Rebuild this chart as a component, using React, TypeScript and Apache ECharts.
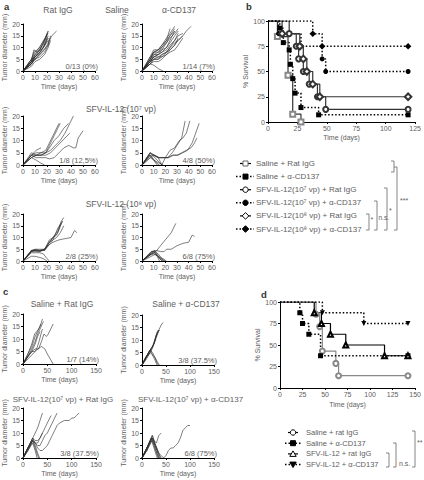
import React, { useEffect, useRef } from "react";
import * as echarts from "echarts";

const FONT = '"Liberation Sans", Arial, Helvetica, sans-serif';
const GREY = "#606060";
const INK = "#2a2a2a";

// ---------------- panel a : tumour diameter (mm) vs time (days) ----------------
const A_RAT_IGG = [
  [[0,0],[7,4],[10,7],[14,9],[17,12],[21,17]],
  [[0,0],[7,5],[10,8],[14,10],[17,13],[21,16]],
  [[0,0],[7,3],[10,6],[14,8],[18,11],[21,15]],
  [[0,0],[7,3],[10,5],[14,7],[18,9],[21,12],[24,15],[28,17]],
  [[0,0],[7,5],[9,8],[12,9],[15,11],[19,14],[21,17]],
  [[0,0],[7,3],[10,6],[13,7],[17,10],[21,14]],
  [[0,0],[7,4],[10,5],[14,6],[18,8],[21,11],[23,15]],
  [[0,0],[7,4],[10,7],[13,9],[17,11],[20,15]],
  [[0,0],[7,2],[10,4],[14,5],[18,7],[21,10],[23,13]],
  [[0,0],[7,5],[10,6],[14,8],[17,10],[21,13]],
  [[0,0],[7,4],[10,6],[14,9],[17,12],[20,16]],
  [[0,0],[7,3],[10,5],[14,7],[17,9],[21,11],[22,14]],
  [[0,0],[7,4],[9,9],[12,8],[17,10],[20,14]],
];
const A_CD137 = [
  [[0,0],[7,5],[10,8],[14,8],[17,10],[21,13],[24,18]],
  [[0,0],[7,6],[10,8],[14,9],[17,11],[21,14],[24,16],[28,19]],
  [[0,0],[7,4],[10,6],[14,7],[17,8],[21,10],[24,12],[28,15],[31,17]],
  [[0,0],[7,5],[10,7],[14,7],[17,9],[21,10],[24,13],[28,17]],
  [[0,0],[7,3],[10,5],[14,5],[17,7],[21,8],[24,10],[28,13],[31,15],[35,16]],
  [[0,0],[7,4],[10,6],[14,6],[17,7],[21,8],[24,9],[28,11],[31,13],[35,15],[38,17],[42,19]],
  [[0,0],[7,3],[10,5],[14,5],[17,6],[21,7],[24,8],[28,9],[31,11],[35,14]],
  [[0,0],[7,5],[10,8],[14,9],[17,11],[21,13],[24,15],[28,17]],
  [[0,0],[7,4],[10,7],[14,8],[17,9],[21,12],[24,14],[28,16],[31,18]],
  [[0,0],[7,3],[10,4],[14,4],[17,5],[21,7],[24,9],[28,11],[31,14]],
  [[0,0],[7,4],[10,5],[14,6],[17,6],[21,8],[24,10],[28,12],[31,13],[35,15]],
  [[0,0],[7,6],[10,9],[14,9],[17,10],[21,12],[24,15],[28,18]],
  [[0,0],[7,4],[10,6],[14,7],[17,8],[21,9],[24,11],[28,13],[31,16]],
  [[0,0],[7,3],[10,2.5],[14,1],[18,0]],
];
const A_SFV7_RAT = [
  [[0,0],[7,4],[11,6],[15,7]],
  [[0,0],[7,3],[11,2],[14,1],[18,0]],
  [[0,0],[7,4],[11,5],[15,5],[19,6],[22,9],[26,13],[30,17]],
  [[0,0],[7,5],[11,4],[15,5],[19,5],[22,8],[26,12],[29,15],[31,17]],
  [[0,0],[7,4],[11,4],[15,4],[19,5],[22,7],[26,10],[30,12],[34,15],[38,17]],
  [[0,0],[7,3],[11,4],[15,4],[19,5],[23,6],[27,8],[31,10],[35,13],[39,17],[42,20]],
  [[0,0],[7,4],[11,3],[15,3],[19,3],[22,2.5],[26,3],[30,5],[34,7],[38,8],[42,7],[44,7],[46,11],[50,14]],
  [[0,0],[7,3],[11,4],[15,4],[19,4],[23,5],[27,7],[31,9],[35,11],[39,13]],
];
const A_SFV7_CD137 = [
  [[0,0],[7,5],[10,4],[14,3],[18,3],[22,3],[26,5],[30,8],[34,11],[37,18]],
  [[0,0],[7,4],[10,4],[14,3],[17,0],[20,3],[24,6],[28,7],[32,10],[35,11],[38,13],[41,18]],
  [[0,0],[7,5],[11,4],[15,3],[19,3],[23,3],[27,4],[31,4],[35,5],[39,6],[43,9],[46,13],[49,17]],
  [[0,0],[7,3],[10,4],[14,3],[18,3],[22,3],[26,4],[30,4],[34,5],[38,6],[42,7],[45,9],[47,11]],
  [[0,0],[7,4],[10,2],[13,0]],
  [[0,0],[7,5],[11,3],[15,1],[17,0]],
  [[0,0],[7,3],[10,2],[14,1],[18,0]],
  [[0,0],[6,4],[9,3],[12,1],[15,0]],
];
const A_SFV8_RAT = [
  [[0,0],[7,4],[10,4.5],[14,4.5],[18,5],[22,8],[25,10],[29,13],[32,17],[34,18.5]],
  [[0,0],[7,4.5],[10,5],[14,4.5],[18,4.5],[22,7],[25,9],[29,14],[33,17]],
  [[0,0],[7,4],[10,4],[14,4],[18,5],[22,8],[25,10],[29,12],[32,16]],
  [[0,0],[7,4.5],[10,4.5],[14,4],[18,5],[22,7],[25,8],[30,9],[35,9.5],[40,10],[43,13],[45,12]],
  [[0,0],[7,4],[10,5],[14,5],[18,5],[22,9],[25,10],[28,11],[31,15],[33,17]],
  [[0,0],[7,4.5],[10,4.5],[14,4.5],[18,4.5],[22,8],[25,9],[28,10],[31,12],[34,15]],
  [[0,0],[7,3.5],[10,3.5],[14,3.5],[17,3],[20,1],[22,0]],
  [[0,0],[7,2],[10,2],[14,1.5],[17,1],[20,0]],
];
const A_SFV8_CD137 = [
  [[0,0],[8,3],[12,4],[15,6],[20,9],[25,12],[29,16]],
  [[0,0],[8,3.5],[12,4.5],[16,4],[19,4],[21,5],[25,5],[30,6.5],[35,7.5],[40,8],[43,11],[45,10.5]],
  [[0,0],[8,4],[11,4.5],[14,2],[17,0]],
  [[0,0],[8,3],[11,3.5],[15,1],[18,0]],
  [[0,0],[7,2.5],[10,3],[14,2],[18,1],[21,0]],
  [[0,0],[8,4],[11,4],[14,3],[17,1],[19,0]],
  [[0,0],[7,3],[10,4],[13,2],[15,0]],
  [[0,0],[8,2],[12,3],[16,1],[20,0]],
];

// ---------------- panel c ----------------
const C_SALINE_RAT = [
  [[0,0],[10,4],[18,7],[25,11],[30,13],[35,15],[40,18]],
  [[0,0],[10,4],[18,8],[24,12],[28,13],[32,14],[37,16]],
  [[0,0],[10,3],[18,6],[25,9],[30,12],[35,14],[42,17]],
  [[0,0],[10,3],[18,5],[25,8],[30,11],[35,13]],
  [[0,0],[10,3],[18,5],[25,6],[32,6],[38,9],[43,12],[48,11],[52,12],[57,14],[62,16]],
  [[0,0],[10,2],[20,4],[30,6],[38,7],[45,6],[50,4],[56,2],[62,0]],
  [[0,0],[10,3],[18,5],[24,5],[28,6],[33,9],[37,12],[40,14]],
];
const C_SALINE_CD137 = [
  [[0,0],[8,3],[17,6],[24,8],[30,11],[35,14],[40,16],[44,17]],
  [[0,0],[8,3],[17,6],[23,8],[28,11],[33,13],[37,14]],
  [[0,0],[8,3],[17,5],[22,7],[27,10],[31,13],[35,14]],
  [[0,0],[8,2.5],[17,5],[22,7],[26,9],[30,12],[34,13]],
  [[0,0],[8,3],[17,6],[21,7],[26,9],[30,12],[34,14]],
  [[0,0],[8,3],[17,6],[22,5],[27,3],[31,1],[34,0]],
  [[0,0],[8,3],[17,6],[22,4],[27,2],[31,0]],
  [[0,0],[8,2],[17,5],[22,4],[27,3],[33,1],[36,0]],
];
const C_SFV7_RAT = [
  [[0,0],[10,4],[20,8],[25,10],[30,12],[35,15],[40,18]],
  [[0,0],[10,3],[20,7],[25,6],[30,6],[35,8],[40,10],[45,12],[50,14],[55,16],[58,17]],
  [[0,0],[10,4],[20,7],[25,6],[30,5],[35,5],[40,7],[45,9],[50,10],[55,12],[60,14],[65,16],[70,18]],
  [[0,0],[10,4],[20,8],[25,6],[30,4],[35,3],[40,3],[45,4],[50,5],[55,7],[60,9],[65,11],[70,13],[75,14],[85,15],[95,15],[100,16],[105,16],[110,17],[115,18]],
  [[0,0],[10,4],[20,8],[25,7],[30,7],[35,8],[40,10]],
  [[0,0],[10,3],[20,7],[25,4],[30,1],[33,0]],
  [[0,0],[10,3],[20,6],[25,3],[29,0]],
  [[0,0],[10,4],[20,7],[25,5],[30,2],[34,0]],
];
const C_SFV7_CD137 = [
  [[0,0],[10,4],[20,8],[25,7],[30,6],[35,9],[40,10]],
  [[0,0],[10,4],[20,8],[25,6],[30,4],[35,2],[40,1],[45,0],[50,1],[55,3],[60,4],[65,4],[70,5],[75,6],[80,8],[85,11],[90,12],[95,13],[100,13]],
  [[0,0],[10,4],[21,9],[26,6],[31,3],[36,0]],
  [[0,0],[10,3],[20,8],[25,5],[30,2],[34,0]],
  [[0,0],[10,4],[22,9],[27,6],[33,3],[38,0]],
  [[0,0],[10,3],[20,7],[25,4],[30,1],[32,0]],
  [[0,0],[10,4],[22,8],[28,5],[34,2],[40,0]],
  [[0,0],[10,3],[21,7],[26,5],[31,2],[35,0]],
];

// ---------------- panel b : % survival ----------------
const B_SALINE_RAT = [[0,100],[8,84.6],[17,46.2],[21,7.7],[28,0]];
const B_SALINE_CD137 = [[0,100],[10,92.9],[13,78.6],[18,71.4],[19,57.1],[21,42.9],[23,28.6],[28,14.3],[43,7.1],[119,7.1]];
const B_SFV7_RAT = [[0,100],[18,87.5],[24,75],[26,62.5],[30,50],[35,37.5],[42,25],[49,12.5],[119,12.5]];
const B_SFV7_CD137 = [[0,100],[9,87.5],[28,75],[46,62.5],[49,50],[119,50]];
const B_SFV8_RAT = [[0,100],[12,87.5],[27,75],[30,62.5],[33,50],[38,37.5],[44,25],[119,25]];
const B_SFV8_CD137 = [[0,100],[38,87.5],[46,75],[119,75]];
const B_LABELS = [
  "Saline + Rat IgG",
  "Saline + α-CD137",
  "SFV-IL-12(10⁷ vp) + Rat IgG",
  "SFV-IL-12(10⁷ vp) + α-CD137",
  "SFV-IL-12(10⁸ vp) + Rat IgG",
  "SFV-IL-12(10⁸ vp) + α-CD137",
];

// ---------------- panel d : % survival ----------------
const D_SALINE_RAT = [[0,100],[40,85.7],[44,71.4],[47,42.9],[62,28.6],[65,14.3],[142,14.3]];
const D_SALINE_CD137 = [[0,100],[22,87.5],[25,75],[32,62.5],[45,37.5],[142,37.5]];
const D_SFV_RAT = [[0,100],[38,87.5],[46,75],[56,62.5],[73,50],[116,37.5],[142,37.5]];
const D_SFV_CD137 = [[0,100],[47,87.5],[93,75],[142,75]];
const D_LABELS = ["Saline + rat IgG", "Saline + α-CD137", "SFV-IL-12 + rat IgG", "SFV-IL-12 + α-CD137"];

const TUMOR_PANELS = [
  { lines: A_RAT_IGG, xMax: 60, xInt: 10, grid: { left: 23, top: 24, width: 72, height: 47 }, note: "0/13 (0%)" },
  { lines: A_CD137, xMax: 60, xInt: 10, grid: { left: 142, top: 24, width: 70, height: 47 }, note: "1/14 (7%)" },
  { lines: A_SFV7_RAT, xMax: 60, xInt: 10, grid: { left: 23, top: 116, width: 72, height: 49 }, note: "1/8 (12,5%)" },
  { lines: A_SFV7_CD137, xMax: 60, xInt: 10, grid: { left: 142, top: 116, width: 70, height: 49 }, note: "4/8 (50%)" },
  { lines: A_SFV8_RAT, xMax: 60, xInt: 10, grid: { left: 23, top: 214, width: 72, height: 47 }, note: "2/8 (25%)" },
  { lines: A_SFV8_CD137, xMax: 60, xInt: 10, grid: { left: 142, top: 214, width: 70, height: 47 }, note: "6/8 (75%)" },
  { lines: C_SALINE_RAT, xMax: 150, xInt: 50, grid: { left: 23, top: 314, width: 73, height: 50 }, note: "1/7 (14%)" },
  { lines: C_SALINE_CD137, xMax: 150, xInt: 50, grid: { left: 142, top: 315, width: 72, height: 50 }, note: "3/8 (37.5%)" },
  { lines: C_SFV7_RAT, xMax: 150, xInt: 50, grid: { left: 23, top: 408, width: 73, height: 50 }, note: "3/8 (37.5%)" },
  { lines: C_SFV7_CD137, xMax: 150, xInt: 50, grid: { left: 142, top: 408, width: 72, height: 50 }, note: "6/8 (75%)" },
];

const axisBase = (fs: number) => ({
  axisLine: { show: true, onZero: false, lineStyle: { color: "#000", width: 1 } },
  axisTick: { show: true, length: 2, lineStyle: { color: "#000" } },
  axisLabel: { fontSize: fs, color: GREY, margin: 3, fontFamily: FONT },
  splitLine: { show: false },
  nameTextStyle: { fontSize: fs, color: GREY, fontFamily: FONT },
  nameLocation: "middle" as const,
});

function txt(x: number, y: number, text: string, o: any = {}) {
  const align = o.align || "left";
  return {
    type: "text", x, y, silent: true,
    style: {
      text, fontSize: o.size || 8, fontFamily: FONT, fill: o.fill || GREY,
      fontWeight: o.weight || "normal",
      align, textAlign: align, verticalAlign: "middle", textVerticalAlign: "middle",
    },
  };
}

function mark(kind: string, cx: number, cy: number, filled: boolean, color: string) {
  const style = { fill: filled ? color : "#fff", stroke: color, lineWidth: 1 };
  if (kind === "square") return { type: "rect", silent: true, shape: { x: cx - 2.5, y: cy - 2.5, width: 5, height: 5 }, style };
  if (kind === "circle") return { type: "circle", silent: true, shape: { cx, cy, r: 2.7 }, style };
  if (kind === "diamond") return { type: "polygon", silent: true, shape: { points: [[cx, cy - 3.3], [cx + 3.3, cy], [cx, cy + 3.3], [cx - 3.3, cy]] }, style };
  if (kind === "triangle") return { type: "polygon", silent: true, shape: { points: [[cx, cy - 3], [cx + 3.2, cy + 2.5], [cx - 3.2, cy + 2.5]] }, style };
  return { type: "polygon", silent: true, shape: { points: [[cx, cy + 3], [cx + 3.2, cy - 2.5], [cx - 3.2, cy - 2.5]] }, style };
}

function hline(x1: number, x2: number, y: number, dotted: boolean, color: string) {
  return { type: "line", silent: true, shape: { x1, y1: y, x2, y2: y }, style: { stroke: color, lineWidth: dotted ? 1.5 : 1.2, lineDash: dotted ? [1.5, 2] : null } };
}

function bracket(x: number, y1: number, y2: number) {
  return { type: "polyline", silent: true, shape: { points: [[x - 3, y1], [x, y1], [x, y2], [x - 3, y2]] }, style: { stroke: "#666", lineWidth: 0.8, fill: null } };
}

function survSeries(data: number[][], axis: number, o: any) {
  return {
    type: "line", xAxisIndex: axis, yAxisIndex: axis, step: "end", silent: true,
    data: data.map((p, i) => ({ value: p, symbol: i === 0 ? "none" : o.symbol })),
    symbol: o.symbol, symbolSize: o.size || 5, symbolRotate: o.rotate || 0,
    showSymbol: true, showAllSymbol: true,
    lineStyle: { color: o.line || o.color, width: o.dotted ? 1.5 : 1.2, type: o.dotted ? [1.5, 2] : "solid" },
    itemStyle: { color: o.color, borderWidth: 1 },
    z: o.z || 3,
  };
}

const B_STYLES = [
  { data: B_SALINE_RAT, symbol: "emptyRect", color: "#888", line: "#333", dotted: false, kind: "square", filled: false },
  { data: B_SALINE_CD137, symbol: "rect", color: "#000", dotted: true, kind: "square", filled: true },
  { data: B_SFV7_RAT, symbol: "emptyCircle", color: "#333", dotted: false, kind: "circle", filled: false },
  { data: B_SFV7_CD137, symbol: "circle", color: "#000", dotted: true, kind: "circle", filled: true },
  { data: B_SFV8_RAT, symbol: "emptyDiamond", color: "#333", dotted: false, kind: "diamond", filled: false, size: 6.5 },
  { data: B_SFV8_CD137, symbol: "diamond", color: "#000", dotted: true, kind: "diamond", filled: true, size: 6.5 },
];
const D_STYLES = [
  { data: D_SALINE_RAT, symbol: "emptyCircle", color: "#888", dotted: false, kind: "circle", filled: false },
  { data: D_SALINE_CD137, symbol: "rect", color: "#000", dotted: true, kind: "square", filled: true },
  { data: D_SFV_RAT, symbol: "emptyTriangle", color: "#000", dotted: false, kind: "triangle", filled: false },
  { data: D_SFV_CD137, symbol: "triangle", color: "#000", dotted: true, kind: "invtriangle", filled: true, rotate: 180 },
];

function buildOption() {
  const grids: any[] = [];
  const xAxes: any[] = [];
  const yAxes: any[] = [];
  const series: any[] = [];
  const g: any[] = [];

  TUMOR_PANELS.forEach((p, i) => {
    grids.push({ ...p.grid, containLabel: false });
    xAxes.push({ type: "value", gridIndex: i, min: 0, max: p.xMax, interval: p.xInt, name: "Time (days)", nameGap: 12, ...axisBase(7) });
    yAxes.push({ type: "value", gridIndex: i, min: 0, max: 20, interval: 5, name: "Tumor diameter (mm)", nameGap: 10, nameRotate: 90, ...axisBase(7) });
    p.lines.forEach((ln) => {
      series.push({ type: "line", xAxisIndex: i, yAxisIndex: i, data: ln, showSymbol: false, silent: true, lineStyle: { color: INK, width: 0.6 } });
    });
    g.push(txt(p.grid.left + p.grid.width + 3, p.grid.top + p.grid.height - 5, p.note, { align: "right", size: 7.5 }));
  });

  // panel b
  const bi = grids.length;
  grids.push({ left: 268, top: 21, width: 150, height: 101 });
  xAxes.push({ type: "value", gridIndex: bi, min: 0, max: 125, interval: 25, name: "Time (days)", nameGap: 12, ...axisBase(7) });
  yAxes.push({ type: "value", gridIndex: bi, min: 0, max: 100, interval: 25, name: "% Survival", nameGap: 18, nameRotate: 90, ...axisBase(7) });
  B_STYLES.forEach((s: any) => series.push(survSeries(s.data, bi, s)));

  // panel d
  const di = grids.length;
  grids.push({ left: 280, top: 302, width: 138, height: 86 });
  xAxes.push({ type: "value", gridIndex: di, min: 0, max: 150, interval: 25, name: "Time (days)", nameGap: 13, ...axisBase(7) });
  yAxes.push({ type: "value", gridIndex: di, min: 0, max: 100, interval: 25, name: "% Survival", nameGap: 15, nameRotate: 90, ...axisBase(7) });
  D_STYLES.forEach((s: any) => series.push(survSeries(s.data, di, s)));

  // panel letters and titles
  g.push(txt(4, 6, "a", { size: 9.5, weight: "bold", fill: "#333" }));
  g.push(txt(246, 6, "b", { size: 9.5, weight: "bold", fill: "#333" }));
  g.push(txt(3, 291, "c", { size: 9.5, weight: "bold", fill: "#333" }));
  g.push(txt(261, 294, "d", { size: 9.5, weight: "bold", fill: "#333" }));
  g.push(txt(58, 10, "Rat IgG", { align: "center", size: 8.5 }));
  g.push(txt(117, 10, "Saline", { align: "center", size: 8.5 }));
  g.push(txt(179, 10, "α-CD137", { align: "center", size: 8.5 }));
  g.push(txt(121, 109, "SFV-IL-12 (10⁷ vp)", { align: "center", size: 8.5 }));
  g.push(txt(121, 204, "SFV-IL-12 (10⁸ vp)", { align: "center", size: 8.5 }));
  g.push(txt(62, 304, "Saline + Rat IgG", { align: "center", size: 8.5 }));
  g.push(txt(186, 304, "Saline + α-CD137", { align: "center", size: 8.5 }));
  g.push(txt(63, 399, "SFV-IL-12(10⁷ vp) + Rat IgG", { align: "center", size: 8 }));
  g.push(txt(138, 399, "SFV-IL-12(10⁷ vp) + α-CD137", { align: "left", size: 8 }));

  // legend b
  B_STYLES.forEach((s: any, i) => {
    const y = 163.5 + i * 13.1;
    const color = s.kind === "square" && !s.filled ? "#666" : "#000";
    g.push(hline(s.dotted ? 236 : 240, s.dotted ? 254 : 251, y, s.dotted, "#000"));
    g.push(mark(s.kind, 245.5, y, s.filled, color));
    g.push(txt(256, y, B_LABELS[i], { size: 8 }));
  });
  g.push(bracket(394, 161, 172));
  g.push(bracket(397, 167, 230));
  g.push(txt(400, 200, "***", { size: 7 }));
  g.push(bracket(387, 188, 230));
  g.push(txt(389, 210, "*", { size: 7 }));
  g.push(bracket(377, 201, 230));
  g.push(txt(378.5, 217, "n.s.", { size: 6.5 }));
  g.push(bracket(369, 214, 230));
  g.push(txt(370.5, 219, "*", { size: 7 }));

  // legend d
  D_STYLES.forEach((s: any, i) => {
    const y = 432.5 + i * 10.7;
    g.push(hline(s.dotted ? 285 : 288, s.dotted ? 302 : 298, y, s.dotted, "#000"));
    g.push(mark(s.kind, 293, y, s.filled, "#000"));
    g.push(txt(306, y, D_LABELS[i], { size: 7.5 }));
  });
  g.push(bracket(389, 453, 467));
  g.push(bracket(396, 443, 467));
  g.push(txt(399, 463, "n.s.", { size: 7 }));
  g.push(bracket(415, 431, 467));
  g.push(txt(417, 442, "**", { size: 7 }));

  return {
    animation: false,
    textStyle: { fontFamily: FONT, color: GREY },
    grid: grids,
    xAxis: xAxes,
    yAxis: yAxes,
    series,
    graphic: { elements: g },
  };
}

export default function App() {
  const ref = useRef<HTMLDivElement>(null);
  useEffect(() => {
    document.body.style.margin = "0";
    if (!ref.current) return;
    const chart = echarts.init(ref.current, undefined, { renderer: "svg" });
    chart.setOption(buildOption() as any);
    return () => chart.dispose();
  }, []);
  return <div ref={ref} style={{ width: 424, height: 480, background: "#fff" }} />;
}
